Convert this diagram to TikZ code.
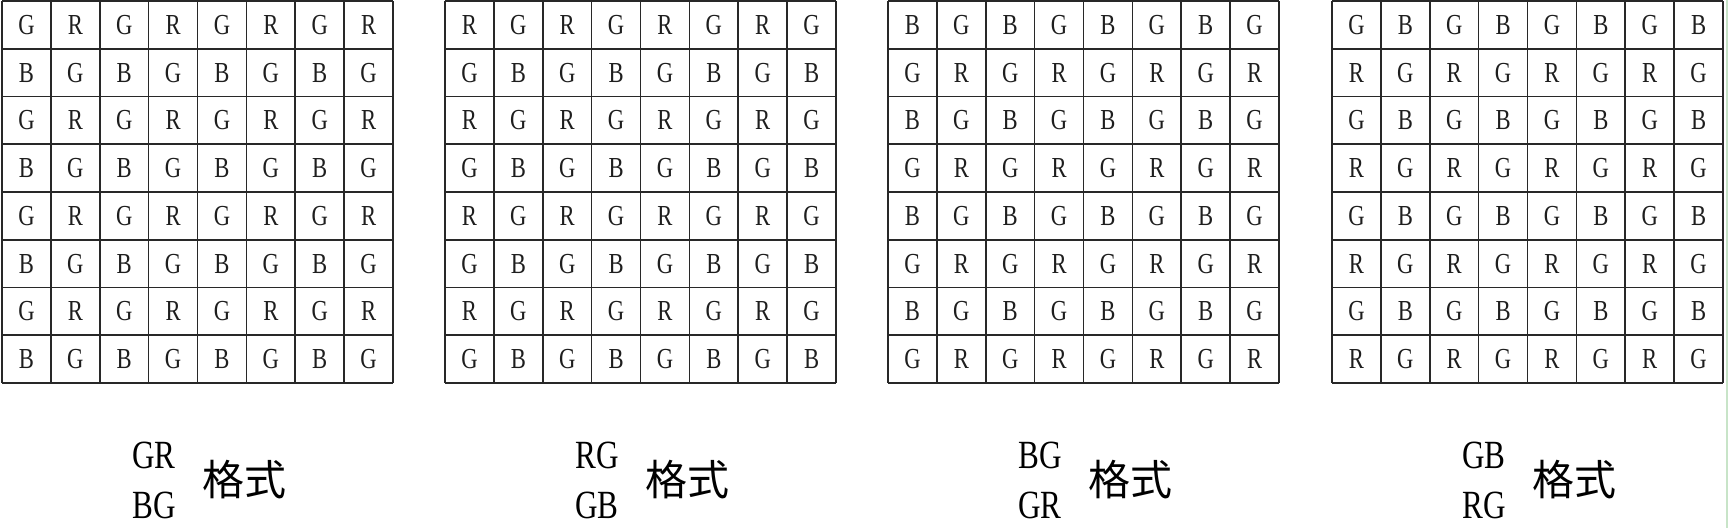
\documentclass[tikz,border=0pt]{standalone}
\usepackage{fontspec}
\newfontfamily\cellfont[FakeStretch=0.78]{Liberation Serif}
\newfontfamily\cjkfont{Noto Sans CJK SC}
\definecolor{linegray}{RGB}{40,40,40}
\definecolor{textgray}{RGB}{30,30,30}
\definecolor{edgegreen}{RGB}{200,228,200}
\tikzset{
  gridline/.style={line width=1.6pt, draw=linegray},
  celltext/.style={font=\cellfont\fontsize{29}{29}\selectfont, inner sep=0pt, text=textgray},
  labeltext/.style={font=\cellfont\fontsize{40}{40}\selectfont, inner sep=0pt, anchor=base},
  cjktext/.style={font=\cjkfont\fontsize{42}{42}\selectfont, inner sep=0pt}
}
\begin{document}
\begin{tikzpicture}[x=1pt,y=-1pt]
\useasboundingbox (0,0) rectangle (1728,528);
\fill[white] (0,0) rectangle (1728,528);
\draw[line width=1.2pt, draw=edgegreen] (1727,0) -- (1727,528);
\foreach \g/\gx/\ea/\eb/\oa/\ob/\la/\lb in {
  1/2/G/R/B/G/GR/BG,
  2/445/R/G/G/B/RG/GB,
  3/888/B/G/G/R/BG/GR,
  4/1332/G/B/R/G/GB/RG}{
  \foreach \i in {0,...,8}{
    \draw[gridline] ({\gx+\i*48.875},1) -- ({\gx+\i*48.875},383);
    \draw[gridline] (\gx,{1+\i*47.75}) -- ({\gx+391},{1+\i*47.75});
  }
  \foreach \r in {0,...,7}{
    \foreach \c in {0,...,7}{
      \pgfmathtruncatemacro{\rp}{mod(\r,2)}
      \pgfmathtruncatemacro{\cp}{mod(\c,2)}
      \ifnum\rp=0
        \ifnum\cp=0 \def\ch{\ea}\else\def\ch{\eb}\fi
      \else
        \ifnum\cp=0 \def\ch{\oa}\else\def\ch{\ob}\fi
      \fi
      \node[celltext] (g\g-\r-\c) at ({\gx+24.44+\c*48.875},{1+23.9+\r*47.75}) {\ch};
    }
  }
  \node[labeltext] (top\g) at ({\gx+152},468) {\la};
  \node[labeltext] (bot\g) at ({\gx+152},518) {\lb};
  \node[cjktext] (fmt\g) at ({\gx+242},480) {格式};
}
\end{tikzpicture}
\end{document}
